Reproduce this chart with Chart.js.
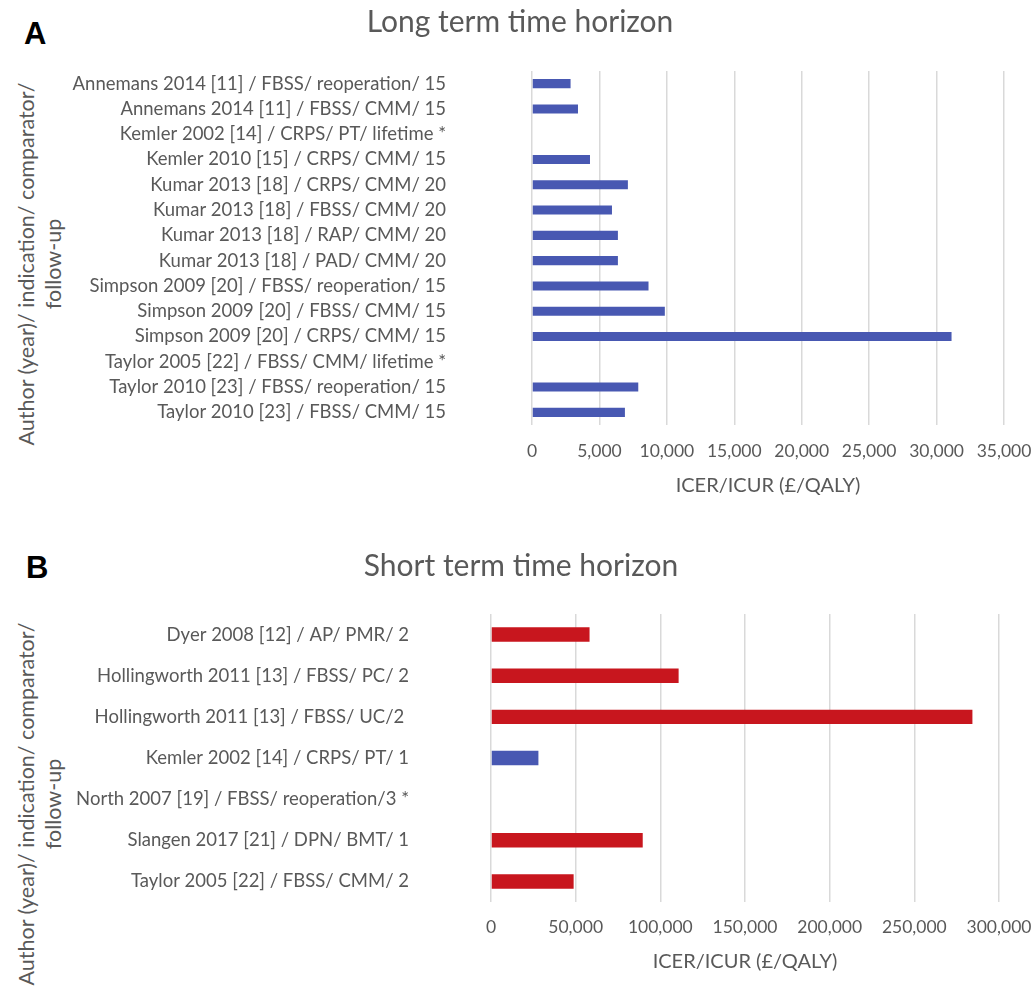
<!DOCTYPE html>
<html>
<head>
<meta charset="utf-8">
<script src="https://cdn.jsdelivr.net/npm/chart.js@4.4.1/dist/chart.umd.min.js"></script>
<style>
    body { margin: 0; background: #fff; width: 1035px; height: 986px; position: relative; overflow: hidden; font-family: Lato, sans-serif; }
    .panel { position: absolute; left: 0; width: 1035px; }
    #panelA { top: 0; height: 510px; }
    #panelB { top: 530px; height: 456px; }
    .letter { position: absolute; font-family: 'Liberation Sans', Arial, sans-serif; font-weight: bold; font-size: 31px; color: #000; line-height: 1; }
    .ytitle { position: absolute; width: 440px; height: 54px; line-height: 27px; text-align: center; font-size: 21.5px; color: #595959; transform: rotate(-90deg); white-space: nowrap; }
</style>
</head>
<body>
<div class="letter" style="left:24px; top:18px;">A</div>
<div class="letter" style="left:26px; top:552px;">B</div>
<div class="ytitle" style="left:-180px; top:237px;">Author (year)/ indication/ comparator/<br>follow-up</div>
<div class="ytitle" style="left:-180px; top:777px;">Author (year)/ indication/ comparator/<br>follow-up</div>
<div class="panel" id="panelA"><canvas id="chartLong"></canvas></div>
<div class="panel" id="panelB"><canvas id="chartShort"></canvas></div>
<script>
const longLabels = [
    'Annemans 2014 [11] / FBSS/ reoperation/ 15',
    'Annemans 2014 [11] / FBSS/ CMM/ 15',
    'Kemler 2002 [14] / CRPS/ PT/ lifetime *',
    'Kemler 2010 [15] / CRPS/ CMM/ 15',
    'Kumar 2013 [18] / CRPS/ CMM/ 20',
    'Kumar 2013 [18] / FBSS/ CMM/ 20',
    'Kumar 2013 [18] / RAP/ CMM/ 20',
    'Kumar 2013 [18] / PAD/ CMM/ 20',
    'Simpson 2009 [20] / FBSS/ reoperation/ 15',
    'Simpson 2009 [20] / FBSS/ CMM/ 15',
    'Simpson 2009 [20] / CRPS/ CMM/ 15',
    'Taylor 2005 [22] / FBSS/ CMM/ lifetime *',
    'Taylor 2010 [23] / FBSS/ reoperation/ 15',
    'Taylor 2010 [23] / FBSS/ CMM/ 15'
];
const longValues = [2860, 3410, null, 4300, 7110, 5930, 6370, 6370, 8640, 9850, 31110, null, 7880, 6890];
const longTicks = [0, 5000, 10000, 15000, 20000, 25000, 30000, 35000];

const shortLabels = [
    'Dyer 2008 [12] / AP/ PMR/ 2',
    'Hollingworth 2011 [13] / FBSS/ PC/ 2',
    'Hollingworth 2011 [13] / FBSS/ UC/2 ',
    'Kemler 2002 [14] / CRPS/ PT/ 1',
    'North 2007 [19] / FBSS/ reoperation/3 *',
    'Slangen 2017 [21] / DPN/ BMT/ 1',
    'Taylor 2005 [22] / FBSS/ CMM/ 2'
];
const shortValues = [58200, 110800, 284300, 28000, null, 89600, 48800];
const shortTicks = [0, 50000, 100000, 150000, 200000, 250000, 300000];

const BLUE = '#4858B2';
const RED = '#C8161E';
const TEXT = '#595959';

function buildOptions(cfg) {
    return {
        indexAxis: 'y',
        responsive: true,
        maintainAspectRatio: false,
        animation: false,
        locale: 'en-US',
        layout: { padding: { left: cfg.left, right: cfg.right, top: 0, bottom: 0 } },
        plugins: {
            legend: { display: false },
            tooltip: { enabled: false },
            title: {
                display: true,
                text: cfg.title,
                color: TEXT,
                font: { family: 'Lato', size: 30, weight: 'normal', lineHeight: 1.2 },
                padding: { top: cfg.titleTop, bottom: cfg.titleBottom }
            }
        },
        scales: {
            x: {
                min: cfg.ticks[0],
                max: cfg.ticks[cfg.ticks.length - 1],
                ticks: {
                    stepSize: cfg.ticks[1] - cfg.ticks[0],
                    color: TEXT,
                    padding: cfg.xTickPad,
                    font: { family: 'Lato', size: 17.5 }
                },
                grid: { color: '#D9D9D9', lineWidth: 1.5, drawTicks: false },
                border: { display: false },
                title: {
                    display: true,
                    text: 'ICER/ICUR (£/QALY)',
                    color: TEXT,
                    font: { family: 'Lato', size: 20, lineHeight: 1.2 },
                    padding: { top: 0, bottom: 12 }
                },
                afterFit: (s) => {
                    s.height = cfg.xHeight;
                    s.paddingLeft = 0;
                    s.paddingRight = 0;
                }
            },
            y: {
                ticks: {
                    color: TEXT,
                    autoSkip: false,
                    padding: cfg.yTickPad,
                    font: { family: 'Lato', size: 18.5 }
                },
                grid: { display: false, drawTicks: false },
                border: { display: false },
                afterFit: (s) => {
                    s.width = cfg.yWidth;
                    s.paddingTop = 0;
                    s.paddingBottom = 0;
                }
            }
        }
    };
}

new Chart(document.getElementById('chartLong'), {
    type: 'bar',
    data: {
        labels: longLabels,
        datasets: [{
            data: longValues,
            backgroundColor: BLUE,
            categoryPercentage: 1,
            barPercentage: 0.36
        }]
    },
    options: buildOptions({
        title: 'Long term time horizon',
        ticks: longTicks,
        left: 36,
        right: 31,
        titleTop: 4,
        titleBottom: 31,
        yWidth: 496,
        yTickPad: 86,
        xHeight: 85,
        xTickPad: 16
    })
});

new Chart(document.getElementById('chartShort'), {
    type: 'bar',
    data: {
        labels: shortLabels,
        datasets: [{
            data: shortValues,
            backgroundColor: shortLabels.map(l => l.startsWith('Kemler') ? BLUE : RED),
            categoryPercentage: 1,
            barPercentage: 0.35
        }]
    },
    options: buildOptions({
        title: 'Short term time horizon',
        ticks: shortTicks,
        left: 43,
        right: 36,
        titleTop: 18,
        titleBottom: 30,
        yWidth: 448,
        yTickPad: 82,
        xHeight: 84,
        xTickPad: 15
    })
});
</script>
</body>
</html>
